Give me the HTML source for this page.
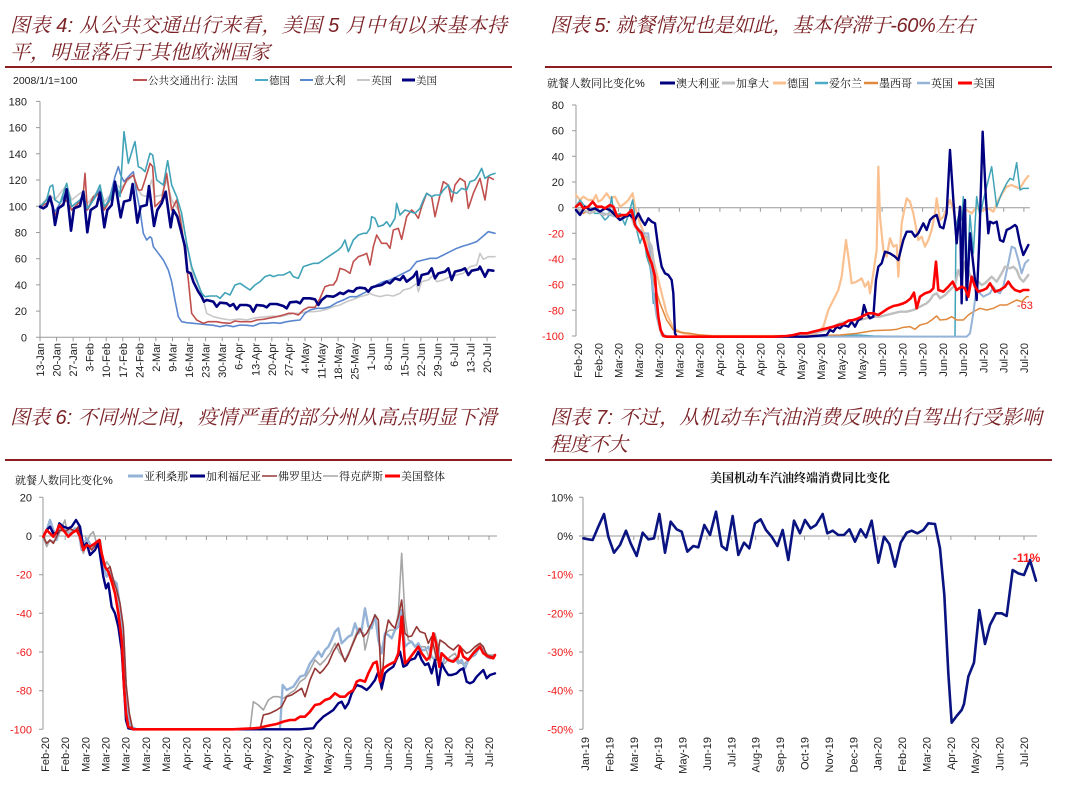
<!DOCTYPE html>
<html><head><meta charset="utf-8"><style>
html,body{margin:0;padding:0;background:#fff;}
svg{display:block;}
.tt{font-family:"Liberation Sans","Noto Serif CJK SC",serif;font-style:italic;font-size:20px;fill:#7b2226;}
.lg{font-family:"Liberation Sans","Noto Serif CJK SC",serif;font-size:11px;fill:#111;}
.tk{font-family:"Liberation Sans",sans-serif;font-size:11px;fill:#222;}
.rd{fill:#f01818;}
.ax{stroke:#9a9a9a;stroke-width:1;fill:none;}
.d{fill:none;stroke-linejoin:round;stroke-linecap:round;}
</style></head><body>
<svg width="1080" height="794" viewBox="0 0 1080 794" xmlns="http://www.w3.org/2000/svg">
<rect width="1080" height="794" fill="#fff"/>
<!-- Titles -->
<text class="tt" x="10" y="32" textLength="497" lengthAdjust="spacing">图表 4: 从公共交通出行来看，美国 5 月中旬以来基本持</text>
<text class="tt" x="10" y="59" textLength="260" lengthAdjust="spacing">平，明显落后于其他欧洲国家</text>
<text class="tt" x="550" y="32" textLength="425" lengthAdjust="spacing">图表 5: 就餐情况也是如此，基本停滞于-60%左右</text>
<text class="tt" x="10" y="424" textLength="487" lengthAdjust="spacing">图表 6: 不同州之间，疫情严重的部分州从高点明显下滑</text>
<text class="tt" x="550" y="424" textLength="492" lengthAdjust="spacing">图表 7: 不过，从机动车汽油消费反映的自驾出行受影响</text>
<text class="tt" x="550" y="451" textLength="78" lengthAdjust="spacing">程度不大</text>
<g stroke="#8c1c1f" stroke-width="2">
<line x1="5" y1="67" x2="512" y2="67"/><line x1="545" y1="67" x2="1052" y2="67"/>
<line x1="5" y1="460" x2="512" y2="460"/><line x1="545" y1="460" x2="1052" y2="460"/>
</g>

<!-- ===== Chart 1 ===== -->
<text class="tk" x="13" y="84" style="font-size:10.5px">2008/1/1=100</text>
<g stroke-width="2">
<line x1="133" y1="80" x2="147" y2="80" stroke="#c0504d"/>
<line x1="255" y1="80" x2="268" y2="80" stroke="#4bacc6"/>
<line x1="300" y1="80" x2="313" y2="80" stroke="#5a86cf"/>
<line x1="357" y1="80" x2="370" y2="80" stroke="#c8c8c8"/>
<line x1="402" y1="80" x2="415" y2="80" stroke="#000080" stroke-width="3"/>
</g>
<text class="lg" x="148" y="84" style="font-size:10.5px">公共交通出行: 法国</text>
<text class="lg" x="269" y="84" style="font-size:10.5px">德国</text>
<text class="lg" x="314" y="84" style="font-size:10.5px">意大利</text>
<text class="lg" x="371" y="84" style="font-size:10.5px">英国</text>
<text class="lg" x="416" y="84" style="font-size:10.5px">美国</text>
<path class="ax" d="M40 101.4V337.3H496M36 101.4H40M36 127.6H40M36 153.8H40M36 180H40M36 206.3H40M36 232.5H40M36 258.7H40M36 284.9H40M36 311.1H40M36 337.3H40M40 337.3v4M56.6 337.3v4M73.1 337.3v4M89.7 337.3v4M106.2 337.3v4M122.8 337.3v4M139.4 337.3v4M155.9 337.3v4M172.5 337.3v4M189 337.3v4M205.6 337.3v4M222.2 337.3v4M238.7 337.3v4M255.3 337.3v4M271.8 337.3v4M288.4 337.3v4M305 337.3v4M321.5 337.3v4M338.1 337.3v4M354.6 337.3v4M371.2 337.3v4M387.8 337.3v4M404.3 337.3v4M420.9 337.3v4M437.4 337.3v4M454 337.3v4M470.6 337.3v4M487.1 337.3v4"/>
<g class="tk" text-anchor="end">
<text x="27" y="105.4">180</text><text x="27" y="131.6">160</text><text x="27" y="157.8">140</text><text x="27" y="184">120</text><text x="27" y="210.3">100</text><text x="27" y="236.5">80</text><text x="27" y="262.7">60</text><text x="27" y="288.9">40</text><text x="27" y="315.1">20</text><text x="27" y="341.3">0</text>
<text transform="translate(44,343) rotate(-90)">13-Jan</text>
<text transform="translate(60.6,343) rotate(-90)">20-Jan</text>
<text transform="translate(77.1,343) rotate(-90)">27-Jan</text>
<text transform="translate(93.7,343) rotate(-90)">3-Feb</text>
<text transform="translate(110.2,343) rotate(-90)">10-Feb</text>
<text transform="translate(126.8,343) rotate(-90)">17-Feb</text>
<text transform="translate(143.4,343) rotate(-90)">24-Feb</text>
<text transform="translate(159.9,343) rotate(-90)">2-Mar</text>
<text transform="translate(176.5,343) rotate(-90)">9-Mar</text>
<text transform="translate(193,343) rotate(-90)">16-Mar</text>
<text transform="translate(209.6,343) rotate(-90)">23-Mar</text>
<text transform="translate(226.2,343) rotate(-90)">30-Mar</text>
<text transform="translate(242.7,343) rotate(-90)">6-Apr</text>
<text transform="translate(259.3,343) rotate(-90)">13-Apr</text>
<text transform="translate(275.8,343) rotate(-90)">20-Apr</text>
<text transform="translate(292.4,343) rotate(-90)">27-Apr</text>
<text transform="translate(309,343) rotate(-90)">4-May</text>
<text transform="translate(325.5,343) rotate(-90)">11-May</text>
<text transform="translate(342.1,343) rotate(-90)">18-May</text>
<text transform="translate(358.6,343) rotate(-90)">25-May</text>
<text transform="translate(375.2,343) rotate(-90)">1-Jun</text>
<text transform="translate(391.8,343) rotate(-90)">8-Jun</text>
<text transform="translate(408.3,343) rotate(-90)">15-Jun</text>
<text transform="translate(424.9,343) rotate(-90)">22-Jun</text>
<text transform="translate(441.4,343) rotate(-90)">29-Jun</text>
<text transform="translate(458,343) rotate(-90)">6-Jul</text>
<text transform="translate(474.6,343) rotate(-90)">13-Jul</text>
<text transform="translate(491.1,343) rotate(-90)">20-Jul</text>
</g>
<g transform="translate(0,100) scale(0.33333)">
<polyline class="d" vector-effect="non-scaling-stroke" stroke="#c8c8c8" stroke-width="1.6" points="120,320 140,295 150,285 165,300 180,280 200,255 215,300 240,280 250,275 262,310 280,290 300,265 313,305 330,285 345,250 362,265 380,245 400,225 415,270 425,285 440,290 455,240 465,290 485,285 500,240 515,300 535,330 550,370 560,430 575,510 590,545 605,580 620,640 640,650 660,655 690,660 720,657 740,660 760,655 780,652 800,650 820,648 840,650 860,645 880,640 900,640 920,635 940,635 960,633 980,628 1000,620 1020,615 1040,605 1060,598 1080,590 1100,585 1110,580 1120,585 1140,590 1160,585 1180,588 1200,580 1210,570 1230,565 1250,550 1255,575 1265,545 1285,540 1300,525 1310,545 1330,540 1350,530 1370,525 1390,520 1410,500 1430,495 1440,460 1450,478 1465,470 1485,470"/>
<polyline class="d" vector-effect="non-scaling-stroke" stroke="#5a86cf" stroke-width="1.6" points="120,320 140,310 150,300 165,335 180,310 200,275 215,320 240,300 250,285 262,330 280,300 300,270 313,325 330,290 345,230 355,200 362,225 372,245 390,225 400,215 410,280 420,330 430,400 440,420 450,410 455,415 460,440 475,460 490,480 505,510 515,545 525,600 535,650 545,665 560,668 580,670 600,672 620,674 640,676 660,680 680,676 700,680 720,675 740,676 760,678 780,670 800,670 820,668 840,670 860,665 880,662 900,660 915,640 930,630 950,625 970,625 990,620 1010,608 1030,600 1050,590 1070,590 1090,580 1110,570 1130,555 1150,545 1170,540 1190,530 1210,520 1230,510 1250,485 1270,480 1290,475 1310,475 1330,465 1350,455 1370,445 1390,438 1410,432 1430,425 1450,408 1465,395 1485,400"/>
<polyline class="d" vector-effect="non-scaling-stroke" stroke="#c0504d" stroke-width="1.6" points="120,320 140,310 150,300 165,345 180,320 200,300 215,330 240,305 250,280 255,220 262,330 280,290 300,280 313,330 330,300 345,270 362,280 380,240 400,225 415,270 425,270 435,240 450,190 458,200 465,320 485,300 500,220 515,330 530,300 545,380 555,460 565,540 575,640 590,660 610,670 625,665 650,665 665,668 690,670 705,663 720,665 740,665 755,665 770,660 790,658 805,655 830,650 850,645 865,640 880,640 895,645 910,630 925,622 945,622 960,595 975,560 990,555 1000,555 1010,540 1020,505 1035,510 1050,520 1060,485 1075,470 1090,465 1100,460 1110,495 1120,440 1130,405 1145,430 1160,430 1170,445 1180,390 1195,385 1205,418 1220,350 1235,330 1245,340 1255,355 1265,320 1280,280 1295,290 1305,350 1320,285 1330,245 1345,255 1355,305 1365,255 1380,235 1395,245 1405,325 1420,280 1440,235 1455,300 1465,230 1480,238"/>
<polyline class="d" vector-effect="non-scaling-stroke" stroke="#41a3b8" stroke-width="1.6" points="120,320 140,300 150,260 158,255 165,300 180,310 200,250 215,320 240,300 250,290 262,325 280,300 300,255 313,320 330,300 345,245 360,290 372,95 385,190 400,140 405,125 415,200 425,205 435,215 450,160 458,165 470,240 490,255 503,182 515,255 530,290 545,340 560,430 575,500 590,540 605,580 615,590 630,588 650,588 660,595 675,578 690,585 705,555 720,550 735,560 750,570 765,555 780,545 795,530 810,525 820,530 835,525 850,525 860,520 870,515 880,530 895,535 910,500 925,495 940,490 955,490 970,480 985,470 1000,460 1015,450 1025,440 1035,420 1045,455 1060,420 1075,405 1090,400 1100,400 1110,385 1115,350 1125,355 1135,380 1150,375 1160,365 1170,380 1185,355 1190,310 1200,345 1215,330 1230,335 1245,340 1260,325 1270,300 1280,280 1295,290 1305,285 1320,285 1330,270 1345,255 1355,275 1370,280 1385,265 1400,270 1410,245 1425,240 1435,225 1445,205 1455,235 1470,225 1485,220"/>
<polyline class="d" vector-effect="non-scaling-stroke" stroke="#000080" stroke-width="2.6" points="120,320 130,325 140,318 150,290 158,320 165,375 175,325 190,315 200,268 213,392 222,325 240,318 250,275 262,397 272,330 290,318 300,278 313,382 322,330 335,315 345,245 362,352 372,305 390,300 398,252 412,368 422,320 440,315 447,258 462,378 472,330 485,310 497,275 512,382 520,330 532,350 545,400 555,440 562,515 572,520 580,545 595,575 605,590 612,605 620,600 640,605 650,620 660,608 680,610 690,618 700,612 710,628 720,615 740,615 750,618 760,635 770,615 790,617 800,622 810,612 830,612 850,618 860,625 870,607 890,605 900,610 910,595 930,595 945,598 955,615 965,600 980,588 1000,590 1010,585 1020,578 1030,582 1045,572 1060,575 1070,565 1080,563 1095,565 1105,575 1115,562 1130,558 1145,555 1160,545 1170,550 1185,535 1200,540 1210,528 1220,545 1240,530 1250,515 1255,555 1265,525 1285,520 1295,505 1305,535 1315,520 1335,515 1345,505 1355,540 1365,515 1385,510 1395,505 1405,525 1415,512 1435,508 1440,500 1455,530 1465,510 1480,512"/>
</g>

<!-- ===== Chart 2 ===== -->
<text class="lg" x="547" y="87">就餐人数同比变化%</text>
<g stroke-width="2.5">
<line x1="660" y1="83" x2="675" y2="83" stroke="#000080" stroke-width="3"/>
<line x1="722" y1="83" x2="735" y2="83" stroke="#bfbfbf" stroke-width="3"/>
<line x1="773" y1="83" x2="786" y2="83" stroke="#fac090" stroke-width="3"/>
<line x1="815" y1="83" x2="828" y2="83" stroke="#4bacc6"/>
<line x1="864" y1="83" x2="878" y2="83" stroke="#e0883c"/>
<line x1="917" y1="83" x2="930" y2="83" stroke="#95b3d7"/>
<line x1="958" y1="83" x2="972" y2="83" stroke="#ff0000" stroke-width="3"/>
</g>
<text class="lg" x="676" y="87">澳大利亚</text>
<text class="lg" x="736" y="87">加拿大</text>
<text class="lg" x="787" y="87">德国</text>
<text class="lg" x="829" y="87">爱尔兰</text>
<text class="lg" x="879" y="87">墨西哥</text>
<text class="lg" x="931" y="87">英国</text>
<text class="lg" x="973" y="87">美国</text>
<path class="ax" d="M576 105V336M576 207.7H1030M572 105H576M572 130.7H576M572 156.3H576M572 182H576M572 207.7H576M572 233.3H576M572 259H576M572 284.7H576M572 310.3H576M572 336H576M578 207.7v4M598.3 207.7v4M618.5 207.7v4M638.8 207.7v4M659.1 207.7v4M679.4 207.7v4M699.6 207.7v4M719.9 207.7v4M740.2 207.7v4M760.4 207.7v4M780.7 207.7v4M801 207.7v4M821.2 207.7v4M841.5 207.7v4M861.8 207.7v4M882.1 207.7v4M902.3 207.7v4M922.6 207.7v4M942.9 207.7v4M963.1 207.7v4M983.4 207.7v4M1003.7 207.7v4M1023.9 207.7v4"/>
<g class="tk" text-anchor="end">
<text x="564" y="109">80</text><text x="564" y="134.7">60</text><text x="564" y="160.3">40</text><text x="564" y="186">20</text><text x="564" y="211.7">0</text>
<text class="rd" x="564" y="237.3">-20</text><text class="rd" x="564" y="263">-40</text><text class="rd" x="564" y="288.7">-60</text><text class="rd" x="564" y="314.3">-80</text><text class="rd" x="564" y="340">-100</text>
<text transform="translate(582,343) rotate(-90)">Feb-20</text>
<text transform="translate(602.3,343) rotate(-90)">Feb-20</text>
<text transform="translate(622.5,343) rotate(-90)">Mar-20</text>
<text transform="translate(642.8,343) rotate(-90)">Mar-20</text>
<text transform="translate(663.1,343) rotate(-90)">Mar-20</text>
<text transform="translate(683.4,343) rotate(-90)">Mar-20</text>
<text transform="translate(703.6,343) rotate(-90)">Mar-20</text>
<text transform="translate(723.9,343) rotate(-90)">Apr-20</text>
<text transform="translate(744.2,343) rotate(-90)">Apr-20</text>
<text transform="translate(764.4,343) rotate(-90)">Apr-20</text>
<text transform="translate(784.7,343) rotate(-90)">Apr-20</text>
<text transform="translate(805,343) rotate(-90)">May-20</text>
<text transform="translate(825.2,343) rotate(-90)">May-20</text>
<text transform="translate(845.5,343) rotate(-90)">May-20</text>
<text transform="translate(865.8,343) rotate(-90)">May-20</text>
<text transform="translate(886.1,343) rotate(-90)">Jun-20</text>
<text transform="translate(906.3,343) rotate(-90)">Jun-20</text>
<text transform="translate(926.6,343) rotate(-90)">Jun-20</text>
<text transform="translate(946.9,343) rotate(-90)">Jun-20</text>
<text transform="translate(967.1,343) rotate(-90)">Jun-20</text>
<text transform="translate(987.4,343) rotate(-90)">Jul-20</text>
<text transform="translate(1007.7,343) rotate(-90)">Jul-20</text>
<text transform="translate(1027.9,343) rotate(-90)">Jul-20</text>
</g>
<g transform="translate(540,100) scale(0.33333)">
<polyline class="d" vector-effect="non-scaling-stroke" stroke="#fac090" stroke-width="2.2" points="108,285 120,300 130,290 145,300 160,300 168,285 175,305 185,300 200,280 210,295 225,290 240,320 255,310 265,300 278,280 285,320 300,370 320,420 340,480 360,560 380,640 400,685 430,700 470,705 520,708 600,708 700,708 760,708 800,706 830,700 850,680 865,630 880,600 895,570 905,530 918,420 925,470 935,550 950,545 965,535 975,560 985,545 990,580 1000,520 1010,450 1015,200 1020,350 1030,450 1040,470 1050,415 1060,440 1070,435 1075,530 1085,370 1100,295 1110,305 1120,340 1135,420 1145,410 1155,440 1165,420 1175,390 1185,340 1190,295 1200,360 1210,350 1220,325 1230,300 1240,330 1250,380 1260,350 1270,320 1280,330 1295,340 1310,320 1320,335 1330,330 1345,325 1360,335 1375,300 1390,275 1400,260 1415,255 1425,260 1440,265 1455,240 1465,228"/>
<polyline class="d" vector-effect="non-scaling-stroke" stroke="#41a3b8" stroke-width="1.5" points="108,320 120,300 135,320 150,330 165,340 180,340 195,360 205,350 215,290 222,350 240,340 255,375 265,345 278,300 290,390 300,430 310,400 320,470 330,500 335,540 340,610 345,580 355,660 365,700 380,708 420,710 500,710 700,710 900,708 950,705 1000,708 1100,710 1200,710 1245,710 1248,380 1255,350 1265,360 1270,290 1280,550 1290,345 1300,460 1310,290 1320,350 1330,300 1340,260 1355,200 1370,320 1385,280 1400,250 1410,235 1420,240 1430,188 1440,270 1450,265 1465,265"/>
<polyline class="d" vector-effect="non-scaling-stroke" stroke="#e0883c" stroke-width="1.5" points="108,335 130,340 150,330 170,330 190,345 210,340 230,345 250,350 270,340 290,380 310,420 330,490 345,560 360,610 380,660 400,690 420,697 450,700 480,705 520,708 700,708 800,708 900,705 950,700 1000,692 1050,690 1070,688 1090,682 1110,680 1125,688 1140,675 1160,670 1175,660 1190,648 1200,660 1220,658 1235,650 1250,660 1270,660 1285,645 1300,635 1320,625 1340,630 1360,625 1380,615 1400,615 1420,605 1430,600 1445,605 1460,590 1465,590"/>
<polyline class="d" vector-effect="non-scaling-stroke" stroke="#95b3d7" stroke-width="2" points="108,335 130,330 150,340 170,330 190,340 210,345 230,350 250,355 270,345 290,380 310,400 325,400 340,580 350,650 360,690 375,708 390,710 500,710 700,710 900,710 1000,710 1100,710 1200,710 1280,710 1290,700 1300,640 1310,560 1320,580 1330,590 1350,580 1360,560 1370,575 1380,580 1390,560 1405,490 1415,440 1425,445 1435,480 1445,520 1455,490 1465,480"/>
<polyline class="d" vector-effect="non-scaling-stroke" stroke="#bfbfbf" stroke-width="2.4" points="108,330 130,330 150,340 170,330 190,345 210,340 230,350 250,355 270,340 285,380 300,400 320,410 335,440 345,520 355,660 365,705 380,710 500,710 700,710 760,708 800,702 840,695 860,690 880,680 900,670 920,665 940,660 960,660 980,655 1000,650 1020,650 1040,645 1060,640 1080,635 1100,635 1120,630 1140,620 1160,610 1170,600 1180,585 1190,580 1200,595 1215,585 1230,570 1245,555 1255,510 1265,540 1275,485 1285,510 1295,540 1305,545 1315,545 1325,555 1335,550 1345,540 1355,530 1370,545 1385,520 1395,500 1410,505 1420,500 1430,510 1440,535 1450,545 1465,525"/>
<polyline class="d" vector-effect="non-scaling-stroke" stroke="#000080" stroke-width="2.4" points="108,330 120,345 135,320 150,330 165,325 180,335 195,325 210,330 225,345 240,360 255,350 270,345 285,360 295,340 305,360 315,375 325,355 335,365 345,370 355,445 365,500 375,520 385,525 395,540 400,580 405,700 410,710 500,710 700,710 800,710 860,705 870,690 880,695 890,680 900,685 910,675 925,680 935,665 945,680 955,660 965,655 972,615 980,640 990,655 1000,650 1008,540 1015,500 1025,490 1035,455 1050,460 1065,470 1075,480 1090,420 1100,395 1115,395 1125,410 1135,400 1150,370 1160,390 1170,360 1180,350 1190,345 1200,380 1210,385 1220,340 1230,150 1240,300 1250,430 1260,320 1265,610 1270,350 1275,300 1280,600 1290,400 1295,450 1305,540 1310,600 1318,420 1328,95 1338,300 1345,400 1350,365 1360,370 1370,365 1380,420 1390,425 1400,390 1410,385 1425,375 1430,380 1440,430 1450,465 1460,445 1465,435"/>
<polyline class="d" vector-effect="non-scaling-stroke" stroke="#ff0000" stroke-width="2.6" points="108,320 120,310 130,325 145,320 158,305 170,320 185,320 195,325 210,315 220,320 232,350 245,345 260,345 275,330 285,375 295,390 305,400 315,430 325,465 335,490 345,530 350,600 355,650 362,690 370,708 380,710 500,710 700,710 740,708 760,705 780,700 800,700 820,695 840,690 860,685 880,680 895,675 910,672 925,662 940,660 955,655 965,650 985,640 1000,640 1015,645 1030,635 1045,625 1060,618 1075,615 1090,610 1100,605 1112,595 1122,578 1130,625 1140,590 1155,580 1170,575 1180,565 1188,485 1195,570 1210,575 1225,560 1238,545 1250,570 1265,560 1275,565 1285,590 1295,530 1305,560 1315,575 1330,570 1340,565 1350,550 1365,575 1380,570 1395,560 1405,545 1415,560 1425,570 1440,575 1450,570 1465,570"/>
</g>
<text class="tk rd" x="1017" y="309" style="font-size:11px">-63</text>

<!-- ===== Chart 3 ===== -->
<text class="lg" x="15" y="484">就餐人数同比变化%</text>
<g stroke-width="2.5">
<line x1="128" y1="476" x2="143" y2="476" stroke="#95b3d7" stroke-width="3"/>
<line x1="190" y1="476" x2="205" y2="476" stroke="#000080" stroke-width="3"/>
<line x1="262" y1="476" x2="277" y2="476" stroke="#953735" stroke-width="1.5"/>
<line x1="323" y1="476" x2="338" y2="476" stroke="#a6a6a6" stroke-width="1.5"/>
<line x1="385" y1="476" x2="400" y2="476" stroke="#ff0000" stroke-width="3"/>
</g>
<text class="lg" x="144" y="480">亚利桑那</text>
<text class="lg" x="206" y="480">加利福尼亚</text>
<text class="lg" x="278" y="480">佛罗里达</text>
<text class="lg" x="339" y="480">得克萨斯</text>
<text class="lg" x="401" y="480">美国整体</text>
<path class="ax" d="M43 497.3V729.3M43 536H497M39 497.3H43M39 536H43M39 574.7H43M39 613.3H43M39 652H43M39 690.7H43M39 729.3H43M45 536v4M65.2 536v4M85.4 536v4M105.5 536v4M125.7 536v4M145.9 536v4M166.1 536v4M186.3 536v4M206.4 536v4M226.6 536v4M246.8 536v4M267 536v4M287.2 536v4M307.3 536v4M327.5 536v4M347.7 536v4M367.9 536v4M388.1 536v4M408.2 536v4M428.4 536v4M448.6 536v4M468.8 536v4M489 536v4"/>
<g class="tk" text-anchor="end">
<text x="32" y="501.3">20</text><text x="32" y="540">0</text>
<text class="rd" x="32" y="578.7">-20</text><text class="rd" x="32" y="617.3">-40</text><text class="rd" x="32" y="656">-60</text><text class="rd" x="32" y="694.7">-80</text><text class="rd" x="32" y="733.3">-100</text>
<text transform="translate(49,737) rotate(-90)">Feb-20</text>
<text transform="translate(69.2,737) rotate(-90)">Feb-20</text>
<text transform="translate(89.4,737) rotate(-90)">Mar-20</text>
<text transform="translate(109.5,737) rotate(-90)">Mar-20</text>
<text transform="translate(129.7,737) rotate(-90)">Mar-20</text>
<text transform="translate(149.9,737) rotate(-90)">Mar-20</text>
<text transform="translate(170.1,737) rotate(-90)">Mar-20</text>
<text transform="translate(190.3,737) rotate(-90)">Apr-20</text>
<text transform="translate(210.4,737) rotate(-90)">Apr-20</text>
<text transform="translate(230.6,737) rotate(-90)">Apr-20</text>
<text transform="translate(250.8,737) rotate(-90)">Apr-20</text>
<text transform="translate(271,737) rotate(-90)">May-20</text>
<text transform="translate(291.2,737) rotate(-90)">May-20</text>
<text transform="translate(311.3,737) rotate(-90)">May-20</text>
<text transform="translate(331.5,737) rotate(-90)">May-20</text>
<text transform="translate(351.7,737) rotate(-90)">Jun-20</text>
<text transform="translate(371.9,737) rotate(-90)">Jun-20</text>
<text transform="translate(392.1,737) rotate(-90)">Jun-20</text>
<text transform="translate(412.2,737) rotate(-90)">Jun-20</text>
<text transform="translate(432.4,737) rotate(-90)">Jun-20</text>
<text transform="translate(452.6,737) rotate(-90)">Jul-20</text>
<text transform="translate(472.8,737) rotate(-90)">Jul-20</text>
<text transform="translate(493,737) rotate(-90)">Jul-20</text>
</g>
<g transform="translate(0,500) scale(0.33333)">
<polyline class="d" vector-effect="non-scaling-stroke" stroke="#a6a6a6" stroke-width="1.6" points="130,110 140,140 150,120 160,125 170,115 180,95 195,60 200,90 215,90 230,95 240,110 250,160 260,130 270,105 280,95 290,130 300,125 310,215 320,185 330,200 340,240 350,270 360,330 370,460 378,600 388,670 400,688 700,688 750,688 760,605 775,615 790,630 805,600 820,590 835,590 850,595 870,580 885,570 900,545 915,535 930,510 945,480 960,495 975,480 990,460 1005,430 1020,460 1035,480 1050,450 1065,410 1075,385 1090,400 1095,450 1110,385 1125,350 1135,420 1145,460 1155,400 1170,390 1185,390 1195,340 1205,160 1215,350 1225,420 1235,425 1245,440 1260,440 1275,440 1290,480 1305,400 1315,440 1325,490 1335,490 1350,470 1365,460 1380,490 1395,490 1410,470 1425,450 1440,430 1450,450 1465,465 1485,465"/>
<polyline class="d" vector-effect="non-scaling-stroke" stroke="#95b3d7" stroke-width="2.4" points="130,110 140,90 150,60 160,90 170,120 180,80 195,90 210,100 225,85 235,90 245,150 260,115 275,140 290,130 300,120 310,200 320,230 330,210 340,240 350,250 360,320 370,400 378,560 385,650 395,680 410,688 500,688 700,688 840,688 848,555 860,570 870,565 880,560 890,545 900,530 915,525 930,490 945,470 955,455 965,470 975,450 985,440 995,420 1005,395 1015,385 1025,430 1035,420 1045,410 1055,405 1065,370 1075,400 1085,390 1095,325 1105,380 1115,385 1125,345 1135,420 1145,460 1155,400 1165,405 1175,415 1185,390 1195,380 1205,330 1215,440 1225,430 1235,425 1245,440 1255,430 1265,450 1275,450 1285,440 1295,470 1305,480 1315,440 1325,500 1335,470 1345,480 1355,485 1365,475 1375,490 1385,480 1395,505 1405,480 1415,470 1425,465 1440,440 1450,450 1460,470 1470,475 1485,465"/>
<polyline class="d" vector-effect="non-scaling-stroke" stroke="#953735" stroke-width="1.6" points="130,110 140,130 150,120 160,130 170,110 180,90 195,95 210,85 225,95 235,80 245,140 260,130 275,150 290,130 300,120 310,190 320,210 330,200 340,240 350,270 360,310 370,380 378,550 388,640 398,688 500,688 700,688 780,688 790,645 810,640 830,630 845,620 860,590 875,585 890,575 905,565 915,590 930,540 945,505 960,520 970,510 985,490 1000,455 1015,430 1025,460 1035,485 1045,465 1055,440 1070,405 1080,385 1090,410 1100,400 1115,370 1125,345 1135,360 1145,570 1155,410 1165,360 1175,375 1185,385 1195,350 1205,300 1215,400 1225,410 1235,408 1250,380 1260,395 1275,400 1285,430 1295,410 1310,480 1320,420 1335,430 1345,440 1360,450 1375,435 1385,445 1400,460 1410,455 1425,440 1440,430 1450,440 1460,465 1475,470 1485,468"/>
<polyline class="d" vector-effect="non-scaling-stroke" stroke="#000080" stroke-width="2.4" points="130,110 140,90 150,80 160,100 170,100 178,70 190,80 205,85 215,80 228,60 240,80 250,140 260,130 270,165 285,150 295,130 310,230 318,265 325,250 335,320 345,340 355,380 365,450 372,560 378,660 385,685 400,688 500,688 700,688 900,688 940,685 950,670 960,660 970,650 985,640 1000,630 1015,610 1025,605 1035,625 1045,610 1055,580 1070,555 1085,560 1100,570 1110,560 1125,540 1135,515 1145,565 1155,520 1165,510 1180,500 1195,465 1200,455 1210,500 1220,495 1230,480 1245,475 1255,455 1265,480 1275,495 1285,490 1295,520 1305,480 1315,555 1325,490 1335,510 1345,525 1355,525 1370,520 1380,510 1390,505 1400,545 1410,550 1420,545 1430,530 1440,520 1450,510 1460,535 1470,525 1485,520"/>
<polyline class="d" vector-effect="non-scaling-stroke" stroke="#ff0000" stroke-width="2.6" points="130,110 140,90 150,100 160,110 170,95 178,75 190,90 205,110 215,100 230,90 240,110 250,150 260,135 270,140 285,130 298,120 305,160 315,200 325,215 335,245 345,280 355,340 365,420 372,560 378,640 385,680 400,688 700,688 760,685 780,683 800,678 830,672 850,665 870,660 885,660 900,650 915,650 930,635 945,615 960,612 975,600 990,595 1005,580 1020,590 1035,590 1045,580 1060,570 1070,545 1080,540 1095,545 1105,520 1120,490 1130,485 1140,545 1150,505 1165,495 1175,490 1185,485 1195,460 1205,350 1215,490 1225,480 1240,460 1255,440 1265,460 1280,480 1290,470 1300,400 1308,430 1318,500 1325,460 1335,470 1345,480 1360,485 1375,470 1380,440 1390,470 1405,480 1420,460 1440,440 1450,460 1465,470 1480,475 1485,465"/>
</g>

<!-- ===== Chart 4 ===== -->
<text x="800" y="482" text-anchor="middle" style="font-family:'Liberation Sans','Noto Serif CJK SC',serif;font-size:12px;font-weight:bold;fill:#111">美国机动车汽油终端消费同比变化</text>
<path class="ax" d="M583 497.3V729.3M583 536H1037M579 497.3H583M579 536H583M579 574.7H583M579 613.3H583M579 652H583M579 690.7H583M579 729.3H583M585 536v4M609.4 536v4M633.8 536v4M658.2 536v4M682.6 536v4M707 536v4M731.3 536v4M755.7 536v4M780.1 536v4M804.5 536v4M828.9 536v4M853.3 536v4M877.7 536v4M902.1 536v4M926.5 536v4M950.9 536v4M975.2 536v4M999.6 536v4M1024 536v4"/>
<g class="tk" text-anchor="end">
<text x="573" y="501.3">10%</text><text x="573" y="540">0%</text>
<text class="rd" x="573" y="578.7">-10%</text><text class="rd" x="573" y="617.3">-20%</text><text class="rd" x="573" y="656">-30%</text><text class="rd" x="573" y="694.7">-40%</text><text class="rd" x="573" y="733.3">-50%</text>
<text transform="translate(589,737) rotate(-90)">Jan-19</text>
<text transform="translate(613.4,737) rotate(-90)">Feb-19</text>
<text transform="translate(637.8,737) rotate(-90)">Mar-19</text>
<text transform="translate(662.2,737) rotate(-90)">Apr-19</text>
<text transform="translate(686.6,737) rotate(-90)">May-19</text>
<text transform="translate(711,737) rotate(-90)">Jun-19</text>
<text transform="translate(735.3,737) rotate(-90)">Jul-19</text>
<text transform="translate(759.7,737) rotate(-90)">Aug-19</text>
<text transform="translate(784.1,737) rotate(-90)">Sep-19</text>
<text transform="translate(808.5,737) rotate(-90)">Oct-19</text>
<text transform="translate(832.9,737) rotate(-90)">Nov-19</text>
<text transform="translate(857.3,737) rotate(-90)">Dec-19</text>
<text transform="translate(881.7,737) rotate(-90)">Jan-20</text>
<text transform="translate(906.1,737) rotate(-90)">Feb-20</text>
<text transform="translate(930.5,737) rotate(-90)">Mar-20</text>
<text transform="translate(954.9,737) rotate(-90)">Apr-20</text>
<text transform="translate(979.2,737) rotate(-90)">May-20</text>
<text transform="translate(1003.6,737) rotate(-90)">Jun-20</text>
<text transform="translate(1028,737) rotate(-90)">Jul-20</text>
</g>
<g transform="translate(540,490) scale(0.33333)">
<polyline class="d" vector-effect="non-scaling-stroke" stroke="#0a1480" stroke-width="2.6" points="130,145 145,148 158,150 175,110 192,72 205,140 222,188 240,165 258,122 272,160 290,198 308,128 325,148 342,145 358,72 375,188 392,95 410,118 425,125 442,185 460,168 475,172 493,105 510,135 528,65 545,168 560,180 578,78 595,195 612,158 628,175 645,100 662,88 678,120 695,140 712,168 728,120 745,210 762,92 780,130 795,90 812,115 828,105 848,72 862,130 878,122 895,135 912,135 928,118 945,155 962,118 978,142 995,92 1015,218 1032,140 1048,162 1065,230 1082,158 1100,128 1115,122 1132,130 1150,120 1165,100 1185,102 1200,175 1213,315 1225,550 1235,698 1250,678 1265,660 1272,642 1285,560 1302,518 1318,360 1335,462 1350,405 1368,370 1385,370 1400,378 1418,240 1435,250 1452,255 1470,210 1488,272"/>
</g>
<text x="1013" y="562" style="font-family:'Liberation Sans',sans-serif;font-size:12px;font-weight:bold;fill:#ff1a1a">-11%</text>
</svg>
</body></html>
